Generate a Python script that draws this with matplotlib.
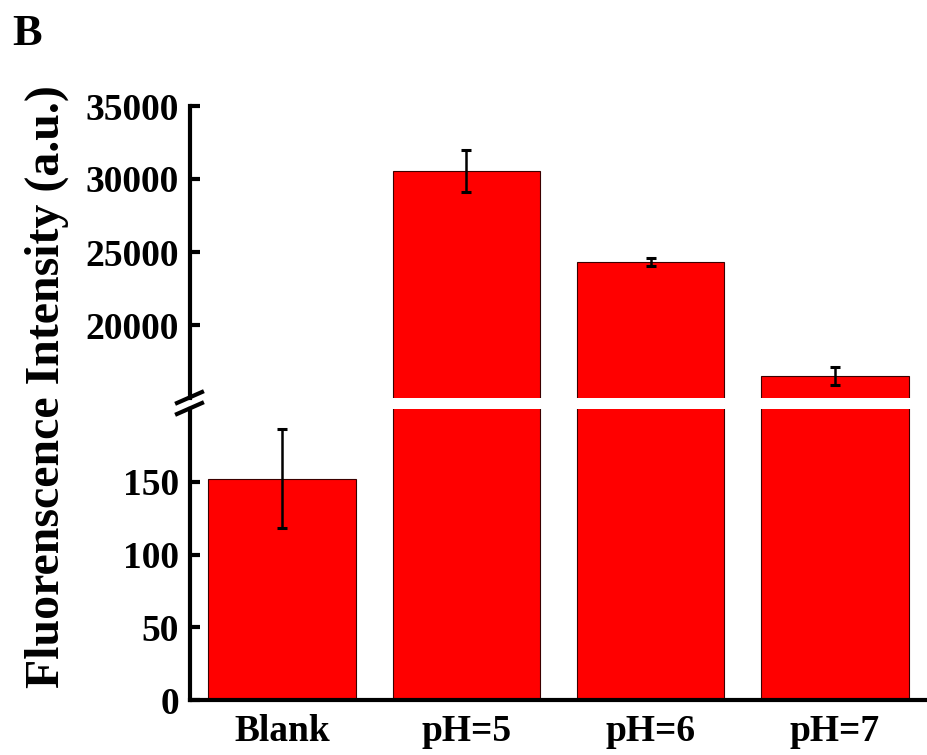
import matplotlib.pyplot as plt
from matplotlib.lines import Line2D

# --- datos ---
categorias = ["Blank", "pH=5", "pH=6", "pH=7"]
intensidad = [152, 30550, 24320, 16510]
error = [34, 1460, 250, 590]

ticks_bajos = [0, 50, 100, 150]
ticks_altos = [20000, 25000, 30000, 35000]

plt.rcParams['font.family'] = ['Liberation Serif', 'DejaVu Serif']
plt.rcParams['font.weight'] = 'bold'

W, H = 927, 755
fig = plt.figure(figsize=(W / 100, H / 100), dpi=100)

# posiciones de los ejes (en pixeles de la figura)
izq, der = 190, 927
ax_alto = fig.add_axes([izq / W, 1 - 398 / H, (der - izq) / W, (398 - 106) / H])
ax_bajo = fig.add_axes([izq / W, 1 - 700 / H, (der - izq) / W, (700 - 409) / H])

x = range(len(categorias))
for ax in (ax_alto, ax_bajo):
    ax.bar(x, intensidad, width=0.8, color='#ff0000', edgecolor='#3a0000',
           linewidth=0.8, zorder=2)
    ax.errorbar(x, intensidad, yerr=error, fmt='none', ecolor='black',
                elinewidth=1.8, capsize=3.5, capthick=2.2, zorder=3)
    ax.set_xlim(-0.5, 3.5)
    ax.spines['right'].set_visible(False)
    ax.spines['top'].set_visible(False)
    ax.spines['left'].set_linewidth(3)
    ax.spines['bottom'].set_linewidth(3)
    ax.tick_params(axis='y', direction='in', length=7, width=3, labelsize=27, pad=8)

ax_alto.set_ylim(15000, 35000)
ax_alto.set_yticks(ticks_altos)
ax_alto.spines['bottom'].set_visible(False)
ax_alto.set_xticks([])

ax_bajo.set_ylim(0, 200)
ax_bajo.set_yticks(ticks_bajos)
ax_bajo.set_xticks(list(x))
ax_bajo.set_xticklabels(categorias)
ax_bajo.tick_params(axis='x', length=0, labelsize=27, pad=10)

# marcas de corte en el eje y
for y0 in (403, 414):
    fig.add_artist(Line2D([177 / W, 202 / W], [1 - y0 / H, 1 - (y0 - 11) / H],
                          color='black', linewidth=3, transform=fig.transFigure))

fig.text(47 / W, 1 - 387 / H, "Fluorenscence Intensity (a.u.)", rotation=90,
         ha='center', va='center', fontsize=34.5, fontweight='bold')
fig.text(12 / W, 1 - 34 / H, "B", ha='left', va='center', fontsize=32,
         fontweight='bold')

fig.savefig("out.png", dpi=100)
